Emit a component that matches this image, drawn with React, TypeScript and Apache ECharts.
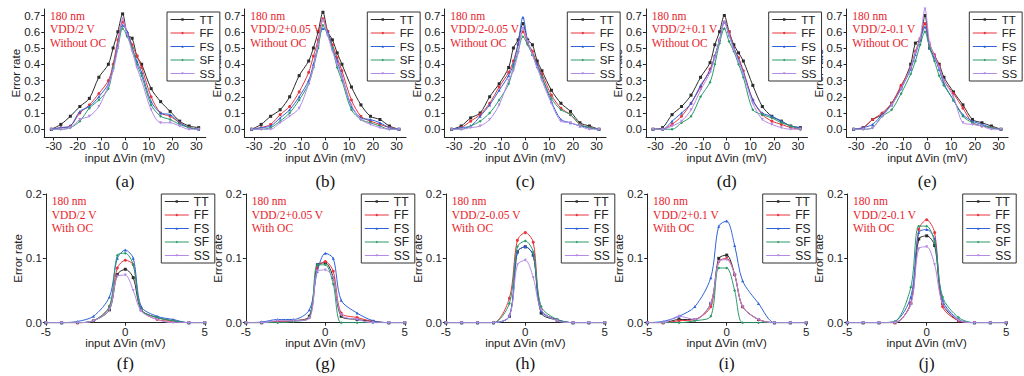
import React, { useEffect, useRef } from "react";
import * as echarts from "echarts";

// ---------- data ----------
const seriesNames = ["TT", "FF", "FS", "SF", "SS"];
const panelLettersTop = ["(a)", "(b)", "(c)", "(d)", "(e)"];
const panelLettersBottom = ["(f)", "(g)", "(h)", "(i)", "(j)"];
const techLabel = "180 nm";
const voltageLabels = ["VDD/2 V", "VDD/2+0.05 V", "VDD/2-0.05 V", "VDD/2+0.1 V", "VDD/2-0.1 V"];
const ocTop = "Without OC";
const ocBottom = "With OC";
const xAxisName = "input ΔVin (mV)";
const yAxisName = "Error rate";

const topXTicks = [-30, -20, -10, 0, 10, 20, 30];
const topYTicks = [0, 0.1, 0.2, 0.3, 0.4, 0.5, 0.6, 0.7];
const bottomXTicks = [-5, 0, 5];
const bottomYTicks = [0, 0.1, 0.2];

// input ΔVin (mV), top row
const topX = [-31, -27, -23, -19, -15, -11, -7, -5, -3, -1, 1, 3, 5, 7, 11, 15, 19, 23, 27, 31];
// input ΔVin (mV), bottom row
const bottomX = [-5, -4, -3, -2, -1, -0.5, 0, 0.5, 1, 2, 3, 4, 5];

// (a) VDD/2 V, without OC  [TT, FF, FS, SF, SS]
const panelA = [
  [0, 0.03, 0.08, 0.14, 0.19, 0.32, 0.40, 0.50, 0.60, 0.71, 0.58, 0.56, 0.45, 0.40, 0.25, 0.17, 0.11, 0.05, 0.02, 0.01],
  [0, 0.01, 0.02, 0.10, 0.15, 0.22, 0.30, 0.40, 0.55, 0.66, 0.59, 0.52, 0.45, 0.38, 0.20, 0.10, 0.08, 0.04, 0.01, 0],
  [0, 0.01, 0.02, 0.11, 0.14, 0.20, 0.28, 0.38, 0.52, 0.64, 0.60, 0.50, 0.42, 0.35, 0.17, 0.10, 0.09, 0.04, 0.01, 0],
  [0, 0, 0.01, 0.05, 0.13, 0.18, 0.25, 0.38, 0.50, 0.62, 0.57, 0.50, 0.40, 0.33, 0.15, 0.08, 0.06, 0.03, 0.01, 0],
  [0, 0, 0.01, 0.06, 0.08, 0.14, 0.27, 0.36, 0.50, 0.68, 0.58, 0.48, 0.38, 0.30, 0.12, 0.04, 0.04, 0.02, 0, 0],
];
// (b) VDD/2+0.05 V, without OC
const panelB = [
  [0, 0.03, 0.08, 0.12, 0.20, 0.33, 0.42, 0.50, 0.60, 0.72, 0.60, 0.55, 0.47, 0.40, 0.26, 0.15, 0.08, 0.06, 0.02, 0],
  [0, 0.01, 0.03, 0.09, 0.14, 0.23, 0.35, 0.45, 0.55, 0.68, 0.60, 0.52, 0.44, 0.36, 0.18, 0.08, 0.05, 0.03, 0.01, 0],
  [0, 0.01, 0.02, 0.07, 0.12, 0.20, 0.30, 0.40, 0.52, 0.62, 0.60, 0.50, 0.42, 0.33, 0.14, 0.07, 0.06, 0.04, 0.01, 0],
  [0, 0, 0.01, 0.05, 0.10, 0.18, 0.28, 0.38, 0.50, 0.64, 0.58, 0.50, 0.38, 0.30, 0.12, 0.06, 0.04, 0.02, 0, 0],
  [0, 0, 0, 0.04, 0.08, 0.13, 0.28, 0.38, 0.52, 0.67, 0.58, 0.48, 0.40, 0.32, 0.15, 0.06, 0.03, 0.01, 0, 0],
];
// (c) VDD/2-0.05 V, without OC
const panelC = [
  [0, 0.02, 0.07, 0.10, 0.20, 0.28, 0.38, 0.50, 0.55, 0.65, 0.55, 0.52, 0.42, 0.36, 0.24, 0.16, 0.11, 0.04, 0.02, 0],
  [0, 0.01, 0.05, 0.09, 0.16, 0.26, 0.35, 0.42, 0.52, 0.60, 0.53, 0.48, 0.40, 0.34, 0.21, 0.13, 0.09, 0.03, 0.01, 0],
  [0, 0.01, 0.02, 0.08, 0.15, 0.24, 0.33, 0.40, 0.53, 0.69, 0.54, 0.46, 0.40, 0.32, 0.17, 0.06, 0.04, 0.02, 0.01, 0],
  [0, 0, 0.02, 0.05, 0.10, 0.18, 0.28, 0.38, 0.48, 0.57, 0.52, 0.46, 0.38, 0.32, 0.19, 0.12, 0.09, 0.03, 0.01, 0],
  [0, 0, 0.01, 0.02, 0.06, 0.15, 0.30, 0.36, 0.47, 0.62, 0.54, 0.46, 0.38, 0.30, 0.16, 0.05, 0.04, 0.02, 0, 0],
];
// (d) VDD/2+0.1 V, without OC
const panelD = [
  [0, 0.01, 0.09, 0.14, 0.21, 0.32, 0.41, 0.52, 0.60, 0.70, 0.60, 0.52, 0.47, 0.42, 0.27, 0.14, 0.08, 0.05, 0.02, 0.01],
  [0, 0, 0.03, 0.08, 0.16, 0.26, 0.37, 0.45, 0.55, 0.66, 0.60, 0.50, 0.44, 0.36, 0.18, 0.09, 0.05, 0.03, 0.01, 0],
  [0, 0, 0.05, 0.10, 0.16, 0.27, 0.36, 0.45, 0.55, 0.66, 0.58, 0.50, 0.43, 0.35, 0.18, 0.10, 0.08, 0.05, 0.02, 0.01],
  [0, 0, 0, 0.04, 0.08, 0.20, 0.29, 0.40, 0.53, 0.62, 0.54, 0.48, 0.40, 0.32, 0.12, 0.09, 0.07, 0.04, 0.02, 0],
  [0, 0, 0.02, 0.05, 0.12, 0.24, 0.35, 0.44, 0.55, 0.66, 0.58, 0.49, 0.42, 0.34, 0.16, 0.06, 0.03, 0.01, 0, 0],
];
// (e) VDD/2-0.1 V, without OC
const panelE = [
  [0, 0.01, 0.06, 0.09, 0.16, 0.26, 0.40, 0.53, 0.55, 0.70, 0.50, 0.45, 0.40, 0.32, 0.23, 0.15, 0.06, 0.04, 0.02, 0],
  [0, 0.01, 0.06, 0.10, 0.16, 0.27, 0.38, 0.48, 0.56, 0.65, 0.52, 0.46, 0.39, 0.30, 0.22, 0.13, 0.04, 0.02, 0.01, 0],
  [0, 0.01, 0.03, 0.09, 0.15, 0.25, 0.37, 0.46, 0.55, 0.63, 0.50, 0.44, 0.37, 0.28, 0.18, 0.09, 0.05, 0.03, 0.01, 0],
  [0, 0, 0.01, 0.08, 0.12, 0.22, 0.34, 0.42, 0.52, 0.60, 0.50, 0.42, 0.33, 0.27, 0.18, 0.08, 0.04, 0.02, 0.01, 0],
  [0, 0, 0.01, 0.08, 0.15, 0.25, 0.38, 0.47, 0.56, 0.74, 0.53, 0.45, 0.38, 0.30, 0.20, 0.04, 0.03, 0.02, 0, 0],
];
// (f) VDD/2 V, with OC
const panelF = [
  [0, 0, 0, 0.003, 0.02, 0.075, 0.083, 0.07, 0.02, 0.008, 0.003, 0, 0],
  [0, 0, 0, 0.003, 0.025, 0.085, 0.097, 0.09, 0.02, 0.005, 0.002, 0, 0],
  [0, 0, 0.002, 0.01, 0.04, 0.1, 0.113, 0.1, 0.025, 0.01, 0.005, 0, 0],
  [0, 0, 0, 0.003, 0.025, 0.105, 0.108, 0.09, 0.02, 0.008, 0.003, 0, 0],
  [0, 0, 0, 0.003, 0.02, 0.072, 0.074, 0.05, 0.018, 0.005, 0, 0, 0],
];
// (g) VDD/2+0.05 V, with OC
const panelG = [
  [0, 0, 0.002, 0.003, 0.01, 0.09, 0.093, 0.07, 0.01, 0.005, 0.002, 0, 0],
  [0, 0, 0.002, 0.003, 0.008, 0.085, 0.095, 0.08, 0.015, 0.008, 0.002, 0, 0],
  [0, 0.001, 0.005, 0.005, 0.02, 0.08, 0.108, 0.1, 0.035, 0.015, 0.003, 0, 0],
  [0, 0, 0, 0.002, 0.008, 0.09, 0.09, 0.06, 0, 0, 0, 0, 0],
  [0, 0, 0.003, 0.003, 0.007, 0.08, 0.082, 0.07, 0.012, 0.005, 0, 0, 0],
];
// (h) VDD/2-0.05 V, with OC
const panelH = [
  [0, 0, 0, 0, 0.01, 0.11, 0.118, 0.105, 0.015, 0.004, 0, 0, 0],
  [0, 0, 0, 0, 0.038, 0.128, 0.14, 0.125, 0.02, 0.004, 0, 0, 0],
  [0, 0, 0, 0, 0.01, 0.11, 0.118, 0.105, 0.018, 0.005, 0, 0, 0],
  [0, 0, 0, 0, 0.03, 0.118, 0.127, 0.11, 0.025, 0.005, 0, 0, 0],
  [0, 0, 0, 0, 0.01, 0.09, 0.097, 0.07, 0.02, 0.003, 0, 0, 0],
];
// (i) VDD/2+0.1 V, with OC
const panelI = [
  [0, 0, 0.005, 0.005, 0.03, 0.1, 0.105, 0.075, 0.025, 0.005, 0, 0, 0],
  [0, 0, 0.003, 0.005, 0.025, 0.095, 0.1, 0.075, 0.025, 0.005, 0, 0, 0],
  [0, 0.002, 0.01, 0.025, 0.07, 0.15, 0.158, 0.12, 0.065, 0.03, 0, 0, 0],
  [0, 0, 0, 0.003, 0.01, 0.085, 0.085, 0.05, 0, 0, 0, 0, 0],
  [0, 0, 0.01, 0.005, 0.03, 0.095, 0.098, 0.075, 0.025, 0.005, 0, 0, 0],
];
// (j) VDD/2-0.1 V, with OC
const panelJ = [
  [0, 0, 0, 0, 0.03, 0.13, 0.135, 0.12, 0.03, 0.003, 0, 0, 0],
  [0, 0, 0, 0, 0.03, 0.145, 0.16, 0.14, 0.025, 0.003, 0, 0, 0],
  [0, 0, 0, 0.002, 0.04, 0.14, 0.145, 0.13, 0.035, 0.005, 0, 0, 0],
  [0, 0, 0, 0.002, 0.055, 0.15, 0.15, 0.125, 0.04, 0.008, 0, 0, 0],
  [0, 0, 0, 0, 0.028, 0.115, 0.118, 0.09, 0.03, 0.004, 0, 0, 0],
];

const topPanels = [panelA, panelB, panelC, panelD, panelE];
const bottomPanels = [panelF, panelG, panelH, panelI, panelJ];

// ---------- styles / layout ----------
const colors = ["#2b2b2b", "#e8343c", "#2f63d8", "#2a9a6a", "#b38be6"];
const symbols = ["rect", "circle", "triangle", "diamond", "triangle"];
const symbolRotates = [0, 0, 0, 0, 180];
const axisColor = "#222";
const sans = "Liberation Sans, Arial, sans-serif";
const serif = "Liberation Serif, Times New Roman, serif";
const redText = "#e8222c";

const topZero = [125, 325.3, 525.3, 726.7, 927.3];
const bottomZero = [125.3, 325.3, 525.3, 726.7, 926.7];

function buildOption() {
  const grid: any[] = [];
  const xAxis: any[] = [];
  const yAxis: any[] = [];
  const series: any[] = [];
  const legend: any[] = [];
  const graphic: any[] = [];

  const addPanel = (
    idx: number,
    row: number,
    z: number,
    xs: number[],
    ys: number[][],
    voltage: string,
    letter: string
  ) => {
    const isTop = row === 0;
    if (isTop) {
      grid.push({ left: z - 80.8, top: 9, width: 161.6, height: 128.4 });
    } else {
      grid.push({ left: z - 79.5, top: 194, width: 159, height: 128.7 });
    }
    const xTicks = isTop ? topXTicks : bottomXTicks;
    const yTicks = isTop ? topYTicks : bottomYTicks;
    xAxis.push({
      gridIndex: idx,
      type: "value",
      min: isTop ? -34 : -5,
      max: isTop ? 34 : 5,
      axisLine: { show: true, onZero: false, lineStyle: { color: axisColor, width: 1 } },
      axisTick: { show: true, inside: false, length: 3, customValues: xTicks, lineStyle: { color: axisColor } },
      axisLabel: {
        customValues: xTicks,
        fontSize: 11.5,
        color: axisColor,
        margin: 3,
        fontFamily: sans,
        hideOverlap: false,
      },
      splitLine: { show: false },
      name: xAxisName,
      nameLocation: "middle",
      nameGap: isTop ? 15 : 14,
      nameMoveOverlap: false,
      nameTextStyle: { fontSize: 11.5, color: axisColor, fontFamily: sans },
    });
    yAxis.push({
      gridIndex: idx,
      type: "value",
      min: isTop ? -0.05 : 0,
      max: isTop ? 0.74 : 0.2,
      axisLine: { show: true, onZero: false, lineStyle: { color: axisColor, width: 1 } },
      axisTick: { show: true, inside: false, length: 3, customValues: yTicks, lineStyle: { color: axisColor } },
      axisLabel: {
        customValues: yTicks,
        fontSize: 11.5,
        color: axisColor,
        margin: 4,
        fontFamily: sans,
        formatter: (v: number) => v.toFixed(1),
      },
      splitLine: { show: false },
      name: yAxisName,
      nameLocation: "middle",
      nameGap: 22,
      nameRotate: 90,
      nameMoveOverlap: false,
      nameTextStyle: { fontSize: 11.5, color: axisColor, fontFamily: sans },
    });
    seriesNames.forEach((name, k) => {
      series.push({
        type: "line",
        name,
        xAxisIndex: idx,
        yAxisIndex: idx,
        data: xs.map((x, j) => [x, ys[k][j]]),
        smooth: 0.3,
        symbol: symbols[k],
        symbolRotate: symbolRotates[k],
        symbolSize: 3,
        color: colors[k],
        lineStyle: { width: 1, color: colors[k] },
        itemStyle: { color: colors[k] },
        emphasis: { disabled: true },
        z: 2 + k,
      });
    });
    legend.push({
      data: seriesNames,
      orient: "vertical",
      left: isTop ? z + 42 : z + 36,
      top: isTop ? 12 : 194,
      itemWidth: 24,
      itemHeight: 3,
      itemGap: 1.5,
      padding: [1.5, 5, 1.5, 3],
      borderColor: "#333",
      borderWidth: 1,
      backgroundColor: "#fff",
      selectedMode: false,
      lineStyle: { width: 1 },
      textStyle: { fontSize: isTop ? 11.5 : 12, lineHeight: 12, color: axisColor, fontFamily: sans },
    });
    const labelLeft = isTop ? z - 75 : z - 73.6;
    const lineYs = isTop ? [16.7, 29.7, 43.3] : [201.7, 215, 228.3];
    const lines = [techLabel, voltage, isTop ? ocTop : ocBottom];
    lines.forEach((t, k) => {
      graphic.push({
        type: "text",
        left: labelLeft,
        top: lineYs[k] - 6.5,
        z: 100,
        style: { text: t, fill: redText, font: `11.5px ${serif}` },
      });
    });
    graphic.push({
      type: "text",
      x: z,
      y: isTop ? 181 : 363.3,
      z: 100,
      style: {
        text: letter,
        fill: "#111",
        font: `17px ${serif}`,
        textAlign: "center",
        textVerticalAlign: "middle",
      },
    });
  };

  for (let i = 0; i < 5; i++) {
    addPanel(i, 0, topZero[i], topX, topPanels[i], voltageLabels[i], panelLettersTop[i]);
  }
  for (let i = 0; i < 5; i++) {
    addPanel(i + 5, 1, bottomZero[i], bottomX, bottomPanels[i], voltageLabels[i], panelLettersBottom[i]);
  }

  return {
    animation: false,
    backgroundColor: "#fff",
    grid,
    xAxis,
    yAxis,
    series,
    legend,
    graphic,
  };
}

export default function App() {
  const ref = useRef<HTMLDivElement>(null);
  useEffect(() => {
    if (!ref.current) return;
    const chart = echarts.init(ref.current, undefined, { renderer: "svg" });
    chart.setOption(buildOption() as any);
    return () => chart.dispose();
  }, []);
  return (
    <div
      ref={ref}
      style={{ position: "fixed", left: 0, top: 0, width: 1024, height: 376, background: "#fff" }}
    />
  );
}
